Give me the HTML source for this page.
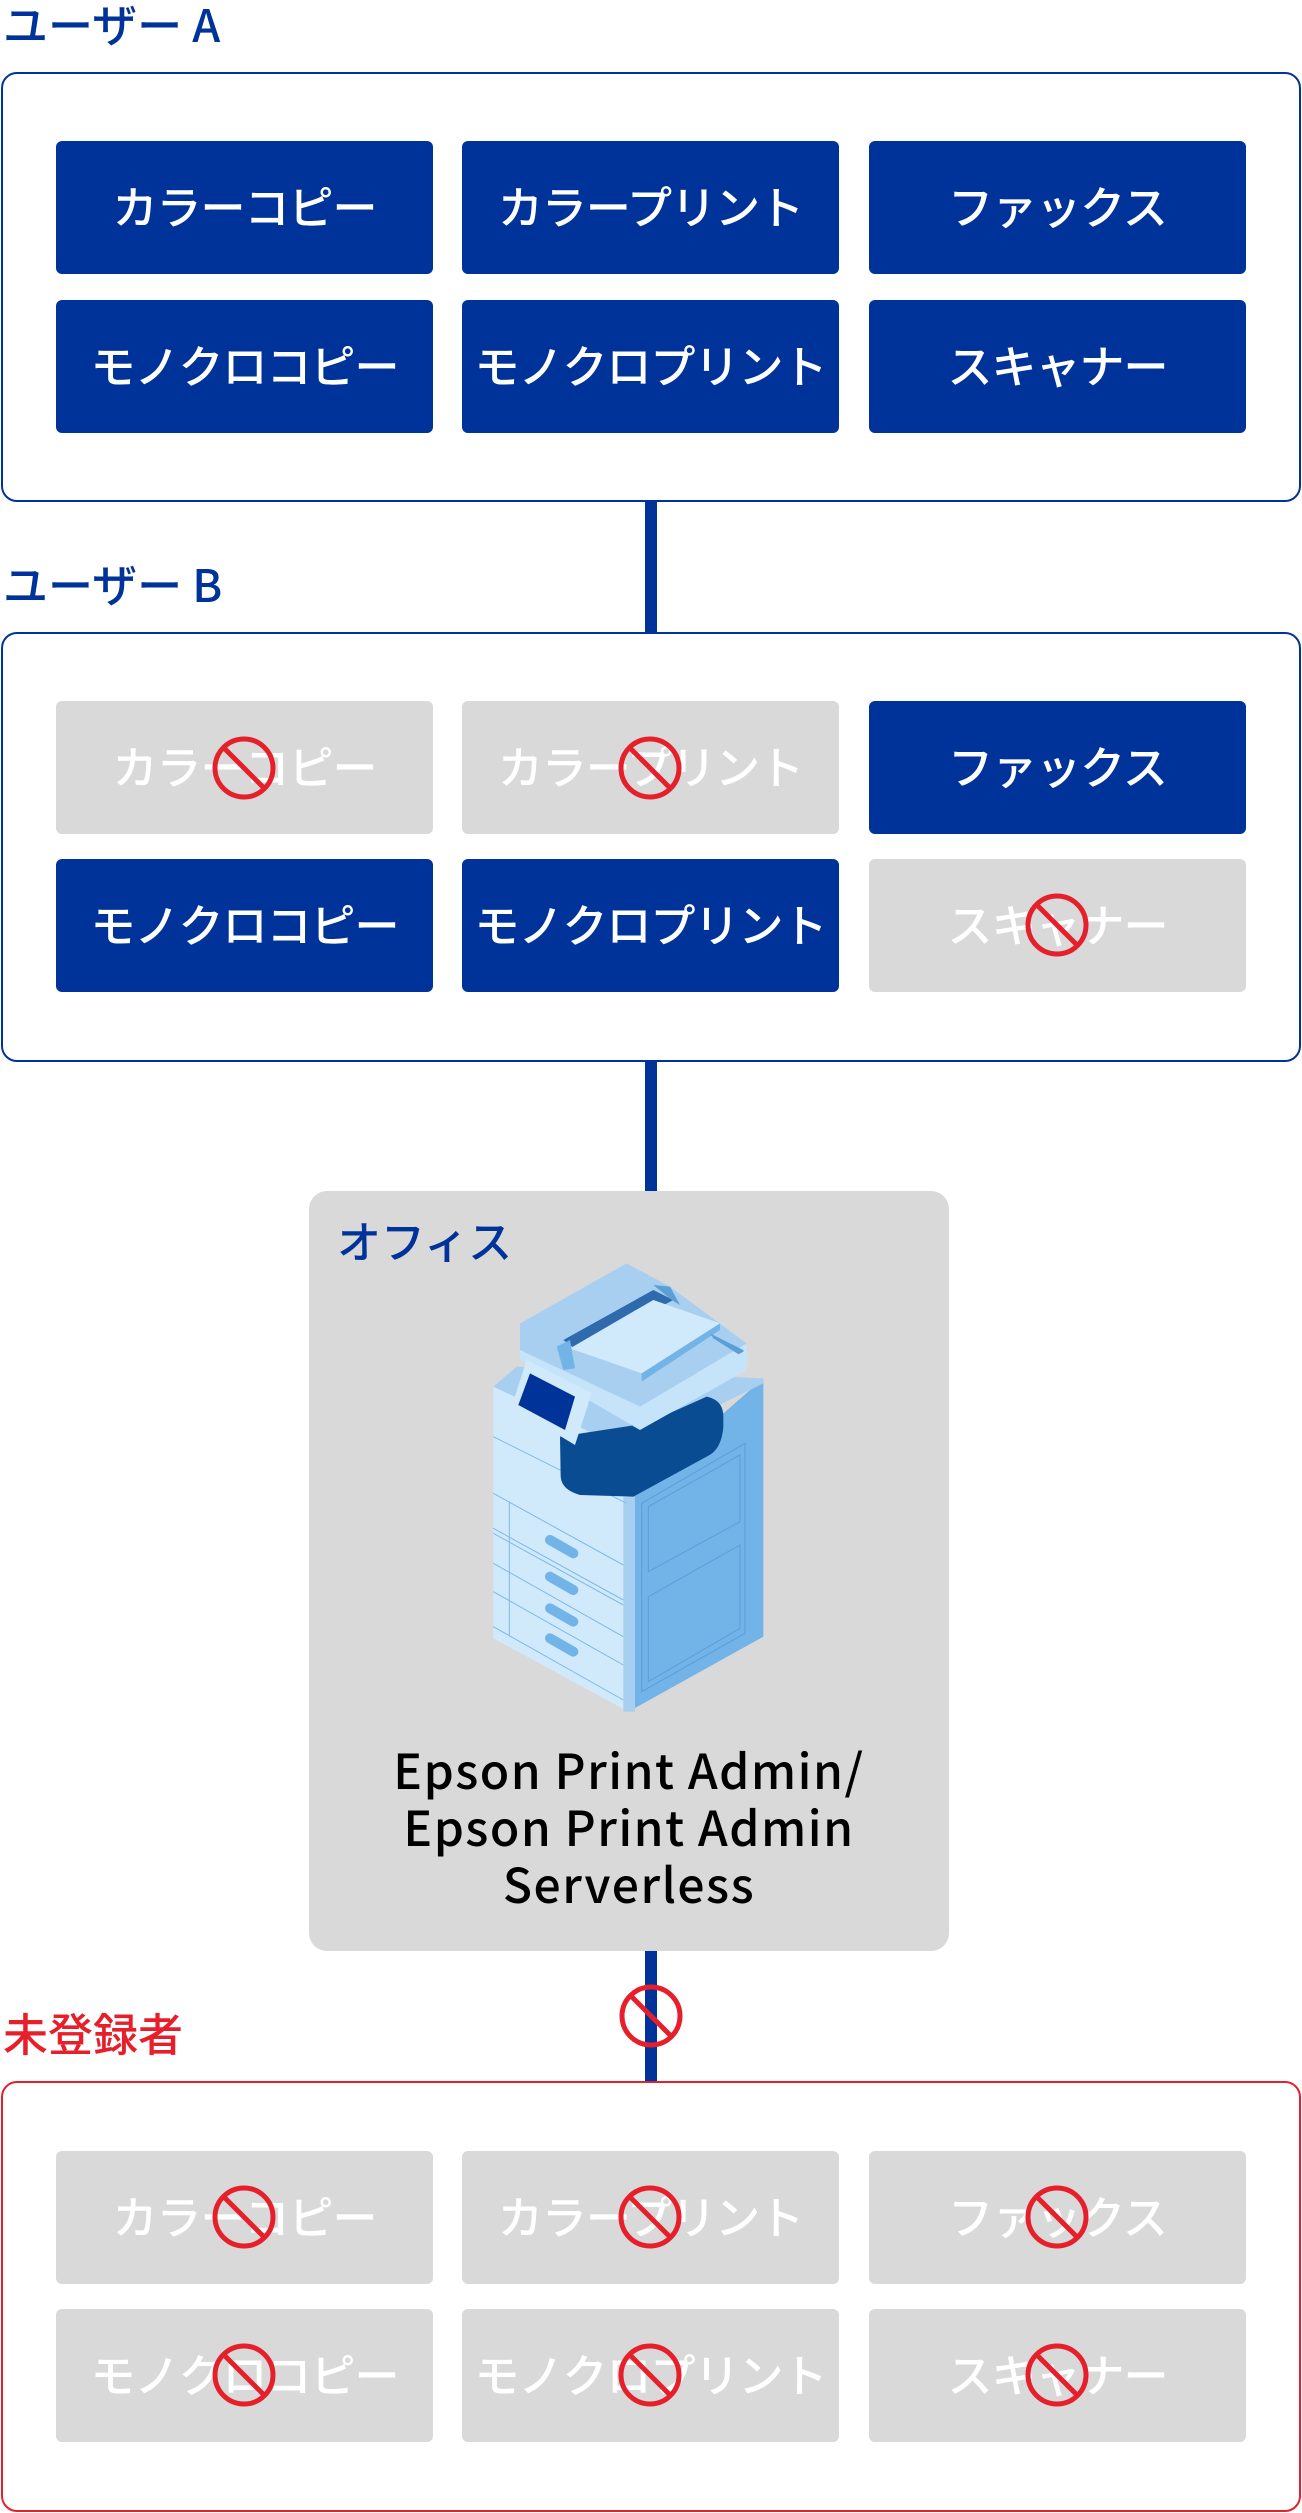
<!DOCTYPE html>
<html><head><meta charset="utf-8">
<style>
*{margin:0;padding:0;box-sizing:border-box}
body{width:1302px;height:2513px;background:#fff;position:relative;overflow:hidden;font-family:"Liberation Sans","Noto Sans CJK JP",sans-serif}
.lbl{position:absolute;left:3px;font-size:45px;font-weight:500;color:#003399;line-height:50px;font-family:"Noto Sans CJK JP",sans-serif}
.box{position:absolute;left:1px;width:1300px;border:2px solid #003399;border-radius:16px;background:#fff}
.btn{position:absolute;width:377px;height:133px;border-radius:6px;background:#003399;color:#fff;font-size:45px;font-weight:500;display:flex;align-items:center;justify-content:center;font-family:"Noto Sans CJK JP",sans-serif;letter-spacing:-1px;padding-bottom:6px}
.g{background:#d9d9d9}
.ban{position:absolute;width:70px;height:70px}
.vl{position:absolute;left:645px;width:12px;background:#003399}
</style></head><body>
<svg width="0" height="0" style="position:absolute"><defs><g id="ban"><circle cx="35" cy="35" r="29" fill="none" stroke="#e6202a" stroke-width="5"/><line x1="14.5" y1="14.5" x2="55.5" y2="55.5" stroke="#e6202a" stroke-width="5"/></g></defs></svg>

<div class="lbl" style="top:-2px">ユーザー A</div>
<div class="box" style="top:72px;height:430px;"></div>
<div class="btn" style="left:56px;top:141px">カラーコピー</div>
<div class="btn" style="left:462px;top:141px">カラープリント</div>
<div class="btn" style="left:869px;top:141px">ファックス</div>
<div class="btn" style="left:56px;top:300px">モノクロコピー</div>
<div class="btn" style="left:462px;top:300px">モノクロプリント</div>
<div class="btn" style="left:869px;top:300px">スキャナー</div>

<div class="vl" style="top:502px;height:130px"></div>

<div class="lbl" style="top:558px">ユーザー B</div>
<div class="box" style="top:632px;height:430px;"></div>
<div class="btn g" style="left:56px;top:701px">カラーコピー</div>
<div class="btn g" style="left:462px;top:701px">カラープリント</div>
<div class="btn" style="left:869px;top:701px">ファックス</div>
<div class="btn" style="left:56px;top:859px">モノクロコピー</div>
<div class="btn" style="left:462px;top:859px">モノクロプリント</div>
<div class="btn g" style="left:869px;top:859px">スキャナー</div>
<svg class="ban" style="left:209px;top:733px"><use href="#ban"/></svg>
<svg class="ban" style="left:615px;top:733px"><use href="#ban"/></svg>
<svg class="ban" style="left:1022px;top:890px"><use href="#ban"/></svg>

<div class="vl" style="top:1062px;height:132px"></div>

<div style="position:absolute;left:309px;top:1191px;width:640px;height:760px;background:#d9d9d9;border-radius:18px"></div>
<div class="lbl" style="left:337px;top:1214px;font-size:44px">オフィス</div>

<svg style="position:absolute;left:480px;top:1250px" width="300" height="480" viewBox="0 0 900 1440">
<polygon points="40,410 445,600 445,1385 40,1165" fill="#d0eafc"/>
<polygon points="445,740 850,385 850,1160 445,1385" fill="#72b4e8"/>
<polygon points="430,740 465,740 465,1385 430,1385" fill="#a8cff0"/>
<polygon points="40,410 110,350 850,385 850,400 445,600" fill="#a8cff0"/>
<g fill="none" stroke="#7fb8e6" stroke-width="3">
<polyline points="40,560 440,760"/><polyline points="40,730 430,945"/><polyline points="40,835 430,1050"/><polyline points="40,850 430,1065"/><polyline points="40,940 430,1160"/><polyline points="40,1025 430,1245"/><polyline points="40,1130 430,1350"/><polyline points="88,755 88,1160"/>
</g>
<g fill="none" stroke="#5a9fd6" stroke-width="3">
<polygon points="485,760 795,580 795,1150 485,1325"/>
<polygon points="505,770 780,615 780,815 505,965"/>
<polygon points="505,1040 780,885 780,1135 505,1295"/>
</g>
<g stroke="#72b4e8" stroke-width="30" stroke-linecap="round">
<line x1="210" y1="870" x2="280" y2="910"/><line x1="210" y1="980" x2="280" y2="1020"/><line x1="210" y1="1075" x2="280" y2="1115"/><line x1="210" y1="1165" x2="280" y2="1205"/>
</g>
<path d="M240,560 L500,520 L680,440 Q730,450 730,500 L730,530 Q725,600 680,620 L460,740 L300,735 Q245,720 242,680 Z" fill="#0a4c92"/>
<polygon points="120,220 440,40 800,280 800,360 480,540 120,330" fill="#c5e4fa"/>
<polygon points="120,220 440,40 570,110 800,280 480,470 120,300" fill="#a8cff0"/>
<polygon points="250,270 520,120 580,150 290,300" fill="#2f6aad"/>
<polygon points="270,295 520,150 720,220 485,370" fill="#d0eafc"/>
<polygon points="485,370 720,220 720,240 485,395" fill="#72b4e8"/>
<polygon points="600,165 570,110 520,105 575,150" fill="#5a9fd6"/>
<polygon points="230,290 270,270 285,355 250,360" fill="#72b4e8"/>
<polygon points="690,250 790,300 795,325 700,265" fill="#5a9fd6"/>
<polygon points="460,480 800,300 800,350 480,530 460,530" fill="#c5e4fa"/>
<polygon points="95,470 140,330 335,430 285,585" fill="#d0eafc"/>
<polygon points="115,465 150,370 285,440 255,540" fill="#003399"/>
</svg>

<div style="position:absolute;left:289px;top:1740px;width:680px;text-align:center;font-size:48px;line-height:57px;font-weight:500;color:#000;letter-spacing:1.5px;font-family:'Noto Sans CJK JP','Liberation Sans',sans-serif">Epson Print Admin/<br>Epson Print Admin<br>Serverless</div>

<div class="vl" style="top:1951px;height:132px"></div>
<svg class="ban" style="left:616px;top:1981px"><use href="#ban"/></svg>

<div class="lbl" style="top:2007px;color:#e6202a">未登録者</div>
<div class="box" style="top:2081px;height:431px;border-color:#e6202a"></div>
<div class="btn g" style="left:56px;top:2151px">カラーコピー</div>
<div class="btn g" style="left:462px;top:2151px">カラープリント</div>
<div class="btn g" style="left:869px;top:2151px">ファックス</div>
<div class="btn g" style="left:56px;top:2309px">モノクロコピー</div>
<div class="btn g" style="left:462px;top:2309px">モノクロプリント</div>
<div class="btn g" style="left:869px;top:2309px">スキャナー</div>
<svg class="ban" style="left:209px;top:2182px"><use href="#ban"/></svg>
<svg class="ban" style="left:615px;top:2182px"><use href="#ban"/></svg>
<svg class="ban" style="left:1022px;top:2182px"><use href="#ban"/></svg>
<svg class="ban" style="left:209px;top:2340px"><use href="#ban"/></svg>
<svg class="ban" style="left:615px;top:2340px"><use href="#ban"/></svg>
<svg class="ban" style="left:1022px;top:2340px"><use href="#ban"/></svg>
</body></html>
